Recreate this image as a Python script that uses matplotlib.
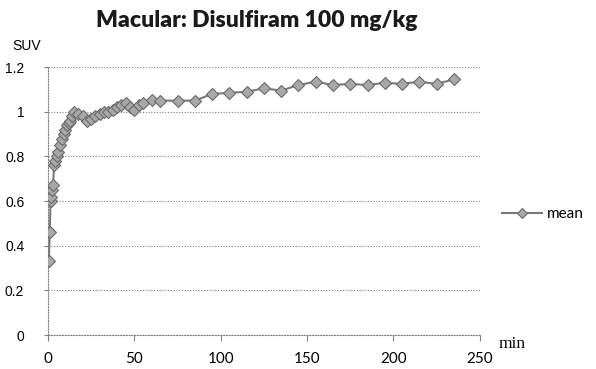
import matplotlib
matplotlib.use("Agg")
from matplotlib import pyplot as plt

# time (min) and mean SUV
minutes = [0.5, 1, 1.5, 2, 2.5, 3, 3.5, 4, 5, 6, 7, 8, 9, 10, 11, 12, 13, 14, 15,
           17.5, 20, 22.5, 25, 27.5, 30, 32.5, 35, 37.5, 40, 42.5, 45, 47.5, 50,
           52.5, 55, 60, 65, 75, 85, 95, 105, 115, 125, 135, 145, 155, 165, 175,
           185, 195, 205, 215, 225, 235]
suv_mean = [0.33, 0.46, 0.60, 0.62, 0.65, 0.67, 0.76, 0.78, 0.80, 0.82, 0.85,
            0.88, 0.90, 0.92, 0.94, 0.95, 0.96, 0.98, 1.00, 0.99, 0.98, 0.96,
            0.97, 0.98, 0.99, 1.00, 1.00, 1.01, 1.02, 1.03, 1.04, 1.02, 1.01,
            1.03, 1.04, 1.055, 1.05, 1.05, 1.05, 1.08, 1.085, 1.09, 1.105,
            1.095, 1.12, 1.135, 1.12, 1.125, 1.12, 1.13, 1.125, 1.135, 1.125,
            1.145]

x_ticks = [0, 50, 100, 150, 200, 250]
y_ticks = [0, 0.2, 0.4, 0.6, 0.8, 1, 1.2]
y_labels = ["0", "0.2", "0.4", "0.6", "0.8", "1", "1.2"]

fig = plt.figure(figsize=(5.96, 3.69), dpi=100)
ax = fig.add_axes([0.0805, 0.092, 0.7245, 0.726])

ax.plot(minutes, suv_mean, color="#7a7a7a", linewidth=1.5, marker="D",
        markersize=6.5, markerfacecolor="#a8a8a8", markeredgecolor="#6a6a6a",
        markeredgewidth=0.8, label="mean", zorder=3)

ax.set_xlim(0, 250)
ax.set_ylim(0, 1.2)
ax.set_xticks(x_ticks)
ax.set_xticklabels([str(t) for t in x_ticks], family="Lato", fontsize=11)
ax.set_yticks(y_ticks)
ax.set_yticklabels(y_labels, family="Liberation Sans", fontsize=10)

ax.grid(axis="y", color="#808080", linestyle=(0, (1, 1.5)), linewidth=0.8)
for side in ("top", "right"):
    ax.spines[side].set_visible(False)
for side in ("left", "bottom"):
    ax.spines[side].set_color("#808080")
    ax.spines[side].set_linestyle((0, (1, 1.5)))
    ax.spines[side].set_linewidth(0.8)
ax.tick_params(axis="x", direction="out", length=4, color="#808080", pad=8)
ax.tick_params(axis="y", direction="out", length=3, color="#808080", pad=14)

fig.text(0.431, 0.945, "Macular: Disulfiram 100 mg/kg", ha="center",
         va="center", family="Lato", fontweight="heavy", fontsize=16.5,
         color="#1a1a1a")
fig.text(0.02, 0.875, "SUV", ha="left", va="center",
         family="Liberation Sans", fontsize=10)
fig.text(0.837, 0.068, "min", ha="left", va="center",
         family="Liberation Serif", fontsize=12.5)

ax.legend(loc="center left", bbox_to_anchor=(1.02, 0.45), frameon=False,
          prop={"family": "Lato", "size": 11}, handlelength=2.6,
          handletextpad=0.3, markerscale=0.8)

fig.savefig("out.png", dpi=100)
